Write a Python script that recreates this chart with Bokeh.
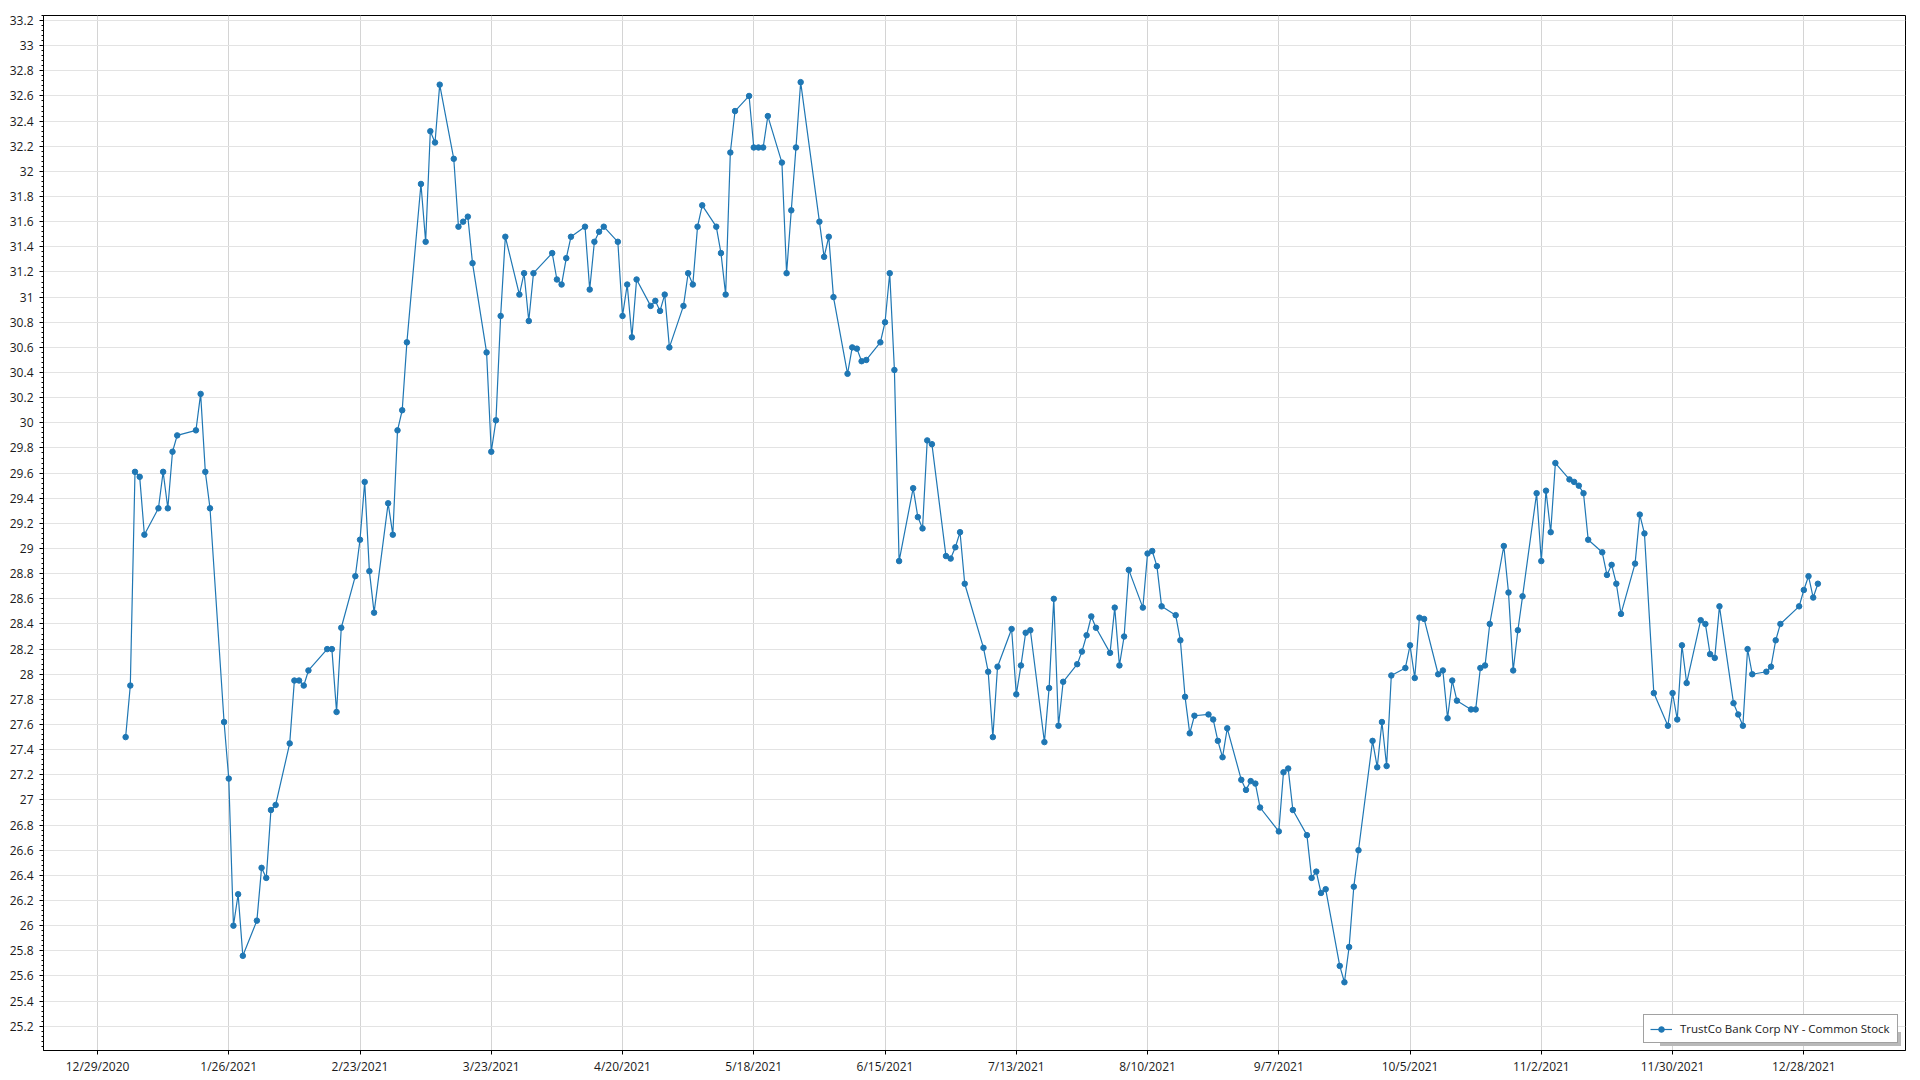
import pandas as pd
from bokeh.plotting import figure
from bokeh.models import (Range1d, FixedTicker, Legend, LegendItem, ColumnDataSource)
from bokeh.embed import file_html
from bokeh.resources import INLINE

# ---------------- data ----------------
series_name = "TrustCo Bank Corp NY - Common Stock"

dates = [
    "2021-01-04", "2021-01-05", "2021-01-06", "2021-01-07", "2021-01-08", "2021-01-11", "2021-01-12",
    "2021-01-13", "2021-01-14", "2021-01-15", "2021-01-19", "2021-01-20", "2021-01-21", "2021-01-22",
    "2021-01-25", "2021-01-26", "2021-01-27", "2021-01-28", "2021-01-29",
    "2021-02-01", "2021-02-02", "2021-02-03", "2021-02-04", "2021-02-05", "2021-02-08", "2021-02-09",
    "2021-02-10", "2021-02-11", "2021-02-12", "2021-02-16", "2021-02-17", "2021-02-18", "2021-02-19",
    "2021-02-22", "2021-02-23", "2021-02-24", "2021-02-25", "2021-02-26",
    "2021-03-01", "2021-03-02", "2021-03-03", "2021-03-04", "2021-03-05", "2021-03-08", "2021-03-09",
    "2021-03-10", "2021-03-11", "2021-03-12", "2021-03-15", "2021-03-16", "2021-03-17", "2021-03-18",
    "2021-03-19", "2021-03-22", "2021-03-23", "2021-03-24", "2021-03-25", "2021-03-26", "2021-03-29",
    "2021-03-30", "2021-03-31",
    "2021-04-01", "2021-04-05", "2021-04-06", "2021-04-07", "2021-04-08", "2021-04-09", "2021-04-12",
    "2021-04-13", "2021-04-14", "2021-04-15", "2021-04-16", "2021-04-19", "2021-04-20", "2021-04-21",
    "2021-04-22", "2021-04-23", "2021-04-26", "2021-04-27", "2021-04-28", "2021-04-29", "2021-04-30",
    "2021-05-03", "2021-05-04", "2021-05-05", "2021-05-06", "2021-05-07", "2021-05-10", "2021-05-11",
    "2021-05-12", "2021-05-13", "2021-05-14", "2021-05-17", "2021-05-18", "2021-05-19", "2021-05-20",
    "2021-05-21", "2021-05-24", "2021-05-25", "2021-05-26", "2021-05-27", "2021-05-28",
    "2021-06-01", "2021-06-02", "2021-06-03", "2021-06-04", "2021-06-07", "2021-06-08", "2021-06-09",
    "2021-06-10", "2021-06-11", "2021-06-14", "2021-06-15", "2021-06-16", "2021-06-17", "2021-06-18",
    "2021-06-21", "2021-06-22", "2021-06-23", "2021-06-24", "2021-06-25", "2021-06-28", "2021-06-29",
    "2021-06-30",
    "2021-07-01", "2021-07-02", "2021-07-06", "2021-07-07", "2021-07-08", "2021-07-09", "2021-07-12",
    "2021-07-13", "2021-07-14", "2021-07-15", "2021-07-16", "2021-07-19", "2021-07-20", "2021-07-21",
    "2021-07-22", "2021-07-23", "2021-07-26", "2021-07-27", "2021-07-28", "2021-07-29", "2021-07-30",
    "2021-08-02", "2021-08-03", "2021-08-04", "2021-08-05", "2021-08-06", "2021-08-09", "2021-08-10",
    "2021-08-11", "2021-08-12", "2021-08-13", "2021-08-16", "2021-08-17", "2021-08-18", "2021-08-19",
    "2021-08-20", "2021-08-23", "2021-08-24", "2021-08-25", "2021-08-26", "2021-08-27", "2021-08-30",
    "2021-08-31",
    "2021-09-01", "2021-09-02", "2021-09-03", "2021-09-07", "2021-09-08", "2021-09-09", "2021-09-10",
    "2021-09-13", "2021-09-14", "2021-09-15", "2021-09-16", "2021-09-17", "2021-09-20", "2021-09-21",
    "2021-09-22", "2021-09-23", "2021-09-24", "2021-09-27", "2021-09-28", "2021-09-29", "2021-09-30",
    "2021-10-01", "2021-10-04", "2021-10-05", "2021-10-06", "2021-10-07", "2021-10-08", "2021-10-11",
    "2021-10-12", "2021-10-13", "2021-10-14", "2021-10-15", "2021-10-18", "2021-10-19", "2021-10-20",
    "2021-10-21", "2021-10-22", "2021-10-25", "2021-10-26", "2021-10-27", "2021-10-28", "2021-10-29",
    "2021-11-01", "2021-11-02", "2021-11-03", "2021-11-04", "2021-11-05", "2021-11-08", "2021-11-09",
    "2021-11-10", "2021-11-11", "2021-11-12", "2021-11-15", "2021-11-16", "2021-11-17", "2021-11-18",
    "2021-11-19", "2021-11-22", "2021-11-23", "2021-11-24", "2021-11-26", "2021-11-29", "2021-11-30",
    "2021-12-01", "2021-12-02", "2021-12-03", "2021-12-06", "2021-12-07", "2021-12-08", "2021-12-09",
    "2021-12-10", "2021-12-13", "2021-12-14", "2021-12-15", "2021-12-16", "2021-12-17", "2021-12-20",
    "2021-12-21", "2021-12-22", "2021-12-23", "2021-12-27", "2021-12-28", "2021-12-29", "2021-12-30",
    "2021-12-31",
]

prices = [
    27.50, 27.91, 29.61, 29.57, 29.11, 29.32, 29.61,
    29.32, 29.77, 29.90, 29.94, 30.23, 29.61, 29.32,
    27.62, 27.17, 26.00, 26.25, 25.76,
    26.04, 26.46, 26.38, 26.92, 26.96, 27.45, 27.95,
    27.95, 27.91, 28.03, 28.20, 28.20, 27.70, 28.37,
    28.78, 29.07, 29.53, 28.82, 28.49,
    29.36, 29.11, 29.94, 30.10, 30.64, 31.90, 31.44,
    32.32, 32.23, 32.69, 32.10, 31.56, 31.60, 31.64,
    31.27, 30.56, 29.77, 30.02, 30.85, 31.48, 31.02,
    31.19, 30.81,
    31.19, 31.35, 31.14, 31.10, 31.31, 31.48, 31.56,
    31.06, 31.44, 31.52, 31.56, 31.44, 30.85, 31.10,
    30.68, 31.14, 30.93, 30.97, 30.89, 31.02, 30.60,
    30.93, 31.19, 31.10, 31.56, 31.73, 31.56, 31.35,
    31.02, 32.15, 32.48, 32.60, 32.19, 32.19, 32.19,
    32.44, 32.07, 31.19, 31.69, 32.19, 32.71,
    31.60, 31.32, 31.48, 31.00, 30.39, 30.60, 30.59,
    30.49, 30.50, 30.64, 30.80, 31.19, 30.42, 28.90,
    29.48, 29.25, 29.16, 29.86, 29.83, 28.94, 28.92,
    29.01,
    29.13, 28.72, 28.21, 28.02, 27.50, 28.06, 28.36,
    27.84, 28.07, 28.33, 28.35, 27.46, 27.89, 28.60,
    27.59, 27.94, 28.08, 28.18, 28.31, 28.46, 28.37,
    28.17, 28.53, 28.07, 28.30, 28.83, 28.53, 28.96,
    28.98, 28.86, 28.54, 28.47, 28.27, 27.82, 27.53,
    27.67, 27.68, 27.64, 27.47, 27.34, 27.57, 27.16,
    27.08,
    27.15, 27.13, 26.94, 26.75, 27.22, 27.25, 26.92,
    26.72, 26.38, 26.43, 26.26, 26.29, 25.68, 25.55,
    25.83, 26.31, 26.60, 27.47, 27.26, 27.62, 27.27,
    27.99, 28.05, 28.23, 27.97, 28.45, 28.44, 28.00,
    28.03, 27.65, 27.95, 27.79, 27.72, 27.72, 28.05,
    28.07, 28.40, 29.02, 28.65, 28.03, 28.35, 28.62,
    29.44, 28.90, 29.46, 29.13, 29.68, 29.55, 29.53,
    29.50, 29.44, 29.07, 28.97, 28.79, 28.87, 28.72,
    28.48, 28.88, 29.27, 29.12, 27.85, 27.59, 27.85,
    27.64, 28.23, 27.93, 28.43, 28.40, 28.16, 28.13,
    28.54, 27.77, 27.68, 27.59, 28.20, 28.00, 28.02,
    28.06, 28.27, 28.40, 28.54, 28.67, 28.78, 28.61,
    28.72,
]

x_tick_dates = ["2020-12-29", "2021-01-26", "2021-02-23", "2021-03-23", "2021-04-20",
                "2021-05-18", "2021-06-15", "2021-07-13", "2021-08-10", "2021-09-07",
                "2021-10-05", "2021-11-02", "2021-11-30", "2021-12-28"]
x_tick_labels = ["12/29/2020", "1/26/2021", "2/23/2021", "3/23/2021", "4/20/2021",
                 "5/18/2021", "6/15/2021", "7/13/2021", "8/10/2021", "9/7/2021",
                 "10/5/2021", "11/2/2021", "11/30/2021", "12/28/2021"]

y_ticks = [round(25.2 + 0.2 * i, 1) for i in range(41)]
y_tick_labels = [("%.1f" % t).rstrip("0").rstrip(".") for t in y_ticks]
y_minor_ticks = [round(25.0 + 0.04 * i, 2) for i in range(207)]

# ---------------- helpers ----------------
DAY_MS = 86400000.0


def to_ms(s):
    return pd.Timestamp(s).value / 1e6


x_ms = [to_ms(d) for d in dates]
x_tick_ms = [to_ms(d) for d in x_tick_dates]

source = ColumnDataSource(data=dict(x=x_ms, y=prices))

FONT = "Open Sans"
BLUE = "#1f77b4"
TEXT = "#1a1a1a"

x_start = to_ms("2020-12-29") - 11.52 * DAY_MS
x_end = to_ms("2021-12-28") + 21.69 * DAY_MS

p = figure(width=1920, height=1080, output_backend="svg", toolbar_location=None,
           x_range=Range1d(x_start, x_end), y_range=Range1d(25.007, 33.24),
           min_border_left=43, min_border_right=15, min_border_top=15, min_border_bottom=30)

p.background_fill_color = "white"
p.border_fill_color = "white"
p.outline_line_color = "black"
p.outline_line_width = 1

# axes
xt = FixedTicker(ticks=x_tick_ms)
yt = FixedTicker(ticks=y_ticks, minor_ticks=y_minor_ticks)
p.xaxis.ticker = xt
p.yaxis.ticker = yt
p.xaxis.major_label_overrides = {t: l for t, l in zip(x_tick_ms, x_tick_labels)}
p.yaxis.major_label_overrides = {t: l for t, l in zip(y_ticks, y_tick_labels)}

for ax in (p.xaxis[0], p.yaxis[0]):
    ax.axis_line_color = "black"
    ax.axis_line_width = 1
    ax.major_tick_line_color = "black"
    ax.minor_tick_line_color = "black"
    ax.major_tick_in = 0
    ax.major_tick_out = 4
    ax.minor_tick_in = 0
    ax.major_label_text_font = FONT
    ax.major_label_text_font_size = "12px"
    ax.major_label_text_color = TEXT

p.xaxis.minor_tick_out = 0
p.yaxis.minor_tick_out = 2
p.xaxis.major_label_standoff = 3
p.yaxis.major_label_standoff = 6

# grid
p.xgrid.ticker = xt
p.ygrid.ticker = yt
p.xgrid.grid_line_color = "#d4d4d4"
p.ygrid.grid_line_color = "#e3e3e3"
p.xgrid.grid_line_width = 1
p.ygrid.grid_line_width = 1

# series
line_r = p.line("x", "y", source=source, line_color=BLUE, line_width=1.2)
dot_r = p.scatter("x", "y", source=source, size=5.5, marker="circle",
                  fill_color=BLUE, line_color=BLUE)

LEG_W = 211  # width of the legend's text area, in pixels

# legend drop shadow: same box size, no text, offset 3px down-right
shadow = Legend(items=[LegendItem(label=" ", renderers=[line_r])],
                location="bottom_right", margin=4, padding=6, spacing=0,
                glyph_width=22, glyph_height=14, label_height=14, label_standoff=8,
                label_width=LEG_W,
                label_text_font=FONT, label_text_font_size="11.5px",
                border_line_color=None, background_fill_color="#b9b9b9",
                background_fill_alpha=1.0)
p.add_layout(shadow)

legend = Legend(items=[LegendItem(label=series_name, renderers=[line_r, dot_r])],
                location="bottom_right", margin=7, padding=6, spacing=0,
                glyph_width=22, glyph_height=14, label_height=14, label_standoff=8,
                label_width=LEG_W,
                label_text_font=FONT, label_text_font_size="11.5px",
                label_text_color=TEXT,
                border_line_color="#444444", border_line_width=1.3,
                background_fill_color="white", background_fill_alpha=1.0)
p.add_layout(legend)

open("out.html", "w").write(file_html(p, INLINE))
